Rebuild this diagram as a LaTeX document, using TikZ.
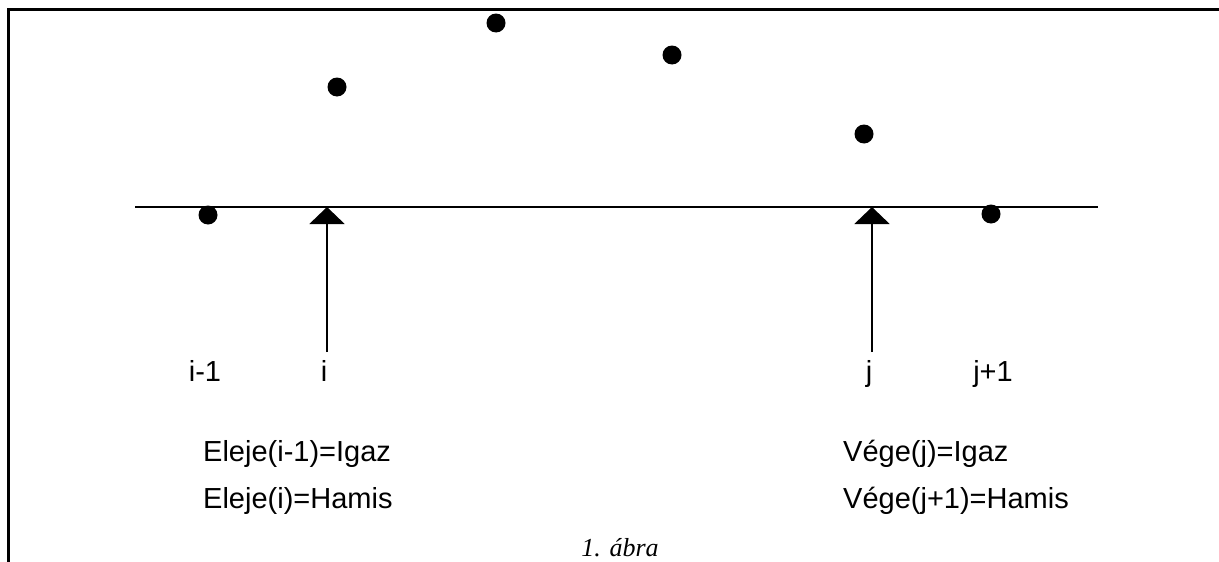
\documentclass[tikz,border=0pt]{standalone}
\usepackage{fontspec}
\setmainfont{Liberation Sans}
\newfontfamily\capfont{Liberation Serif}
\usetikzlibrary{arrows.meta}
\begin{document}
\begin{tikzpicture}[x=1pt,y=-1pt,
  dotmark/.style={circle,fill=black,inner sep=0pt,minimum size=19pt},
  lbl/.style={inner sep=0pt,anchor=base,font=\fontsize{29}{35}\selectfont},
  txt/.style={inner sep=0pt,anchor=base west,font=\fontsize{29}{35}\selectfont},
  pointer/.style={line width=2pt,-{Triangle[width=35pt,length=17pt]}}]
\useasboundingbox (0,0) rectangle (1219,562);
% frame
\coordinate (fa) at (8,562);
\coordinate (fb) at (8,9);
\coordinate (fc) at (1219,9);
\draw[line width=3pt] (fa) -- (fb) -- (fc);
% axis
\coordinate (axl) at (135,207);
\coordinate (axr) at (1098,207);
\draw[line width=2pt] (axl) -- (axr);
% dots
\node[dotmark] (d1) at (208,215) {};
\node[dotmark] (d2) at (337,87) {};
\node[dotmark] (d3) at (496,23) {};
\node[dotmark] (d4) at (672,55) {};
\node[dotmark] (d5) at (864,134) {};
\node[dotmark] (d6) at (991,214) {};
% arrows
\coordinate (ia) at (327,352);
\coordinate (it) at (327,207);
\coordinate (ja) at (872,352);
\coordinate (jt) at (872,207);
\draw[pointer] (ia) -- (it);
\draw[pointer] (ja) -- (jt);
% labels
\node[lbl] (li1) at (205,381) {i-1};
\node[lbl] (li) at (324,381) {i};
\node[lbl] (lj) at (869,381) {j};
\node[lbl] (lj1) at (993,381) {j+1};
% texts
\node[txt] (t1) at (203,461) {Eleje(i-1)=Igaz};
\node[txt] (t2) at (203,508) {Eleje(i)=Hamis};
\node[txt] (t3) at (843,461) {Vége(j)=Igaz};
\node[txt] (t4) at (843,508) {Vége(j+1)=Hamis};
% caption
\node[inner sep=0pt,anchor=base,font=\capfont\itshape\fontsize{26}{30}\selectfont] (cap) at (620,556) {1. ábra};
\end{tikzpicture}
\end{document}
